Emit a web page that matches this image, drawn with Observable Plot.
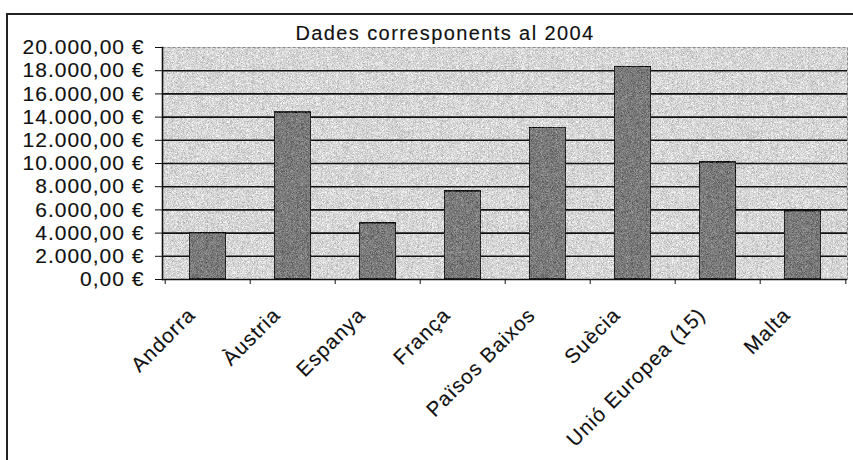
<!DOCTYPE html>
<html>
<head>
<meta charset="utf-8">
<script src="https://cdn.jsdelivr.net/npm/d3@7"></script>
<script src="https://cdn.jsdelivr.net/npm/@observablehq/plot@0.6"></script>
<style>
  html, body { margin: 0; padding: 0; background: #fff; }
  #wrap { position: relative; width: 853px; height: 460px; overflow: hidden; background: #fff; }
  #border { position: absolute; left: 6px; top: 13px; width: 900px; height: 500px;
            border-left: 2px solid #222; border-top: 2px solid #222; }
  #chart { position: absolute; left: 0; top: 0; }
</style>
</head>
<body>
<div id="wrap"><div id="border"></div><div id="chart"></div></div>
<script>
const title = "Dades corresponents al 2004";
const categories = ["Andorra", "Àustria", "Espanya", "França", "Països Baixos", "Suècia", "Unió Europea (15)", "Malta"];
const values = [4000, 14400, 4850, 7600, 13100, 18350, 10100, 5900];
const yTicks = [0, 2000, 4000, 6000, 8000, 10000, 12000, 14000, 16000, 18000, 20000];
const gridTicks = yTicks.filter(d => d > 0 && d < 20000);

const fmt = d3.formatLocale({decimal: ",", thousands: ".", grouping: [3], currency: ["", " €"]}).format("$,.2f");
const data = categories.map((c, i) => ({country: c, value: values[i]}));
const half = (853 - 6 - 162) / categories.length / 2;

const plot = Plot.plot({
  width: 853,
  height: 460,
  marginLeft: 162,
  marginRight: 6,
  marginTop: 47,
  marginBottom: 181,
  style: {fontFamily: "'Liberation Sans', Arial, sans-serif", background: "transparent", color: "#111"},
  x: {domain: categories, padding: 0, axis: null},
  y: {domain: [0, 20000], axis: null},
  marks: [
    Plot.frame({fill: "#d6d6d6", stroke: null}),
    Plot.frame({stroke: "#8a8a8a", strokeDasharray: "3,2"}),
    Plot.gridY(gridTicks, {stroke: "#111", strokeOpacity: 1, strokeWidth: 1.6}),
    Plot.barY(data, {x: "country", y: "value", fill: "#7a7a7a", stroke: "#111", strokeWidth: 1.6, insetLeft: 24, insetRight: 24}),
    Plot.frame({anchor: "left", stroke: "#111", strokeWidth: 1.6}),
    Plot.ruleY([0], {stroke: "#111", strokeWidth: 1.6}),
    Plot.axisY(yTicks, {tickSize: 7, tickPadding: 11, tickFormat: fmt, fontSize: 21, stroke: "#111", fill: "#111", label: null}),
    Plot.axisX({tickSize: 5, dx: -half, tickFormat: () => "", stroke: "#111", label: null}),
    Plot.axisX([categories[categories.length - 1]], {tickSize: 5, dx: half, tickFormat: () => "", stroke: "#111", label: null}),
    Plot.text(categories, {x: d => d, frameAnchor: "bottom", rotate: -45, textAnchor: "end", lineAnchor: "middle",
      dx: -16, dy: 32, fontSize: 20.5, fill: "#111"}),
    Plot.text([title], {frameAnchor: "top", dx: -60, dy: -22, fontSize: 20, fill: "#111"})
  ]
});

// visual styling: letter spacing (the scanned reference is horizontally wide), ink weight and paper grain
const svg = d3.select(plot);
svg.selectAll("text").each(function() {
  const t = this.textContent;
  let ls = null;
  if (t === title) ls = "1.4px";
  else if (categories.includes(t)) ls = "1.1px";
  else if (t.includes("€")) ls = "1px";
  if (ls) {
    this.style.letterSpacing = ls;
    this.style.stroke = "#111";
    this.style.strokeWidth = "0.15px";
  }
});
const defs = svg.insert("defs", ":first-child");
const f = defs.append("filter").attr("id", "grain").attr("x", 0).attr("y", 0).attr("width", 1).attr("height", 1)
  .attr("color-interpolation-filters", "sRGB");
f.append("feTurbulence").attr("type", "fractalNoise").attr("baseFrequency", 2.2).attr("numOctaves", 1).attr("seed", 4).attr("result", "n");
f.append("feColorMatrix").attr("in", "n").attr("type", "matrix")
  .attr("values", "1 0 0 0 0  1 0 0 0 0  1 0 0 0 0  0 0 0 0 1").attr("result", "g");
f.append("feComposite").attr("in", "SourceGraphic").attr("in2", "g").attr("operator", "arithmetic")
  .attr("k1", 0).attr("k2", 1).attr("k3", 0.6).attr("k4", -0.3).attr("result", "c");
f.append("feComposite").attr("in", "c").attr("in2", "SourceGraphic").attr("operator", "in");
const frames = plot.querySelectorAll('[aria-label="frame"]');
if (frames.length) frames[0].setAttribute("filter", "url(#grain)");
const bars = plot.querySelector('[aria-label="bar"]');
if (bars) bars.querySelectorAll("rect").forEach(r => r.setAttribute("filter", "url(#grain)"));

document.getElementById("chart").appendChild(plot);
</script>
</body>
</html>
